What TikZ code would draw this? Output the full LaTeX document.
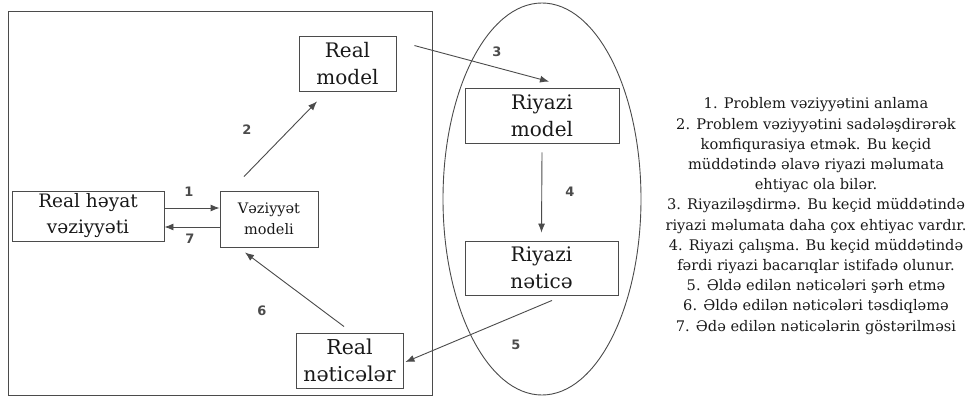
\documentclass[tikz,border=0pt]{standalone}
\usepackage{fontspec}
\setmainfont{DejaVu Serif}
\newfontfamily\numfont{DejaVu Sans}
\usetikzlibrary{arrows.meta}
\definecolor{lnkgray}{RGB}{75,75,75}
\definecolor{txtdark}{RGB}{25,25,25}

\begin{document}
\begin{tikzpicture}[x=1pt, y=-1pt,
      stagebox/.style={draw=lnkgray, line width=0.9pt, align=center, inner sep=0pt, text=txtdark},
      numlbl/.style={font=\numfont\bfseries\fontsize{13}{13}\selectfont, text=lnkgray},
      link/.style={draw=lnkgray, line width=0.9pt, -{Latex[length=9pt,width=7pt]}}
    ]
      \useasboundingbox (0,0) rectangle (970,396);

      % real world frame and mathematical world
      \draw[lnkgray, line width=0.9pt] (8,11) rectangle (432,395);
      \draw[lnkgray, line width=0.9pt] (542,199) ellipse [x radius=99, y radius=196];

      % Stages
      \node[stagebox, minimum width=152pt, minimum height=50pt, font=\fontsize{18.5}{26}\selectfont]
        (hayat) at (88,216) {Real həyat\\vəziyyəti};
      \node[stagebox, minimum width=98pt, minimum height=56pt, font=\fontsize{14.5}{21}\selectfont]
        (vezmodel) at (269,219) {Vəziyyət\\modeli};
      \node[stagebox, minimum width=97pt, minimum height=55pt, font=\fontsize{20}{27}\selectfont]
        (realmodel) at (347.5,63.5) {Real\\model};
      \node[stagebox, minimum width=107pt, minimum height=55pt, font=\fontsize{20.5}{27}\selectfont]
        (realnetice) at (349.5,360.5) {Real\\nəticələr};
      \node[stagebox, minimum width=154pt, minimum height=55pt, font=\fontsize{20}{27}\selectfont]
        (riymodel) at (542,115.5) {Riyazi\\model};
      \node[stagebox, minimum width=153pt, minimum height=54pt, font=\fontsize{20}{27}\selectfont]
        (riynetice) at (541.5,268) {Riyazi\\nəticə};

      % Transitions
      \draw[link] ([yshift=8pt]hayat.east) -- ([yshift=11pt]vezmodel.west);
      \draw[link] ([yshift=-8pt]vezmodel.west) -- ([yshift=-11pt]hayat.east);
      \draw[link] ([xshift=-25pt,yshift=14pt]vezmodel.north) -- ([xshift=-30.5pt,yshift=-10pt]realmodel.south);
      \draw[link] ([xshift=18pt,yshift=-10pt]realmodel.north east) -- ([xshift=7pt,yshift=6pt]riymodel.north);
      \draw[link] ([yshift=-9pt]riymodel.south) -- ([yshift=8pt]riynetice.north);
      \draw[link] ([xshift=10.5pt,yshift=-5pt]riynetice.south) -- ([xshift=2pt,yshift=-1.5pt]realnetice.east);
      \draw[link] ([xshift=-5.5pt,yshift=6pt]realnetice.north) -- ([xshift=-24pt,yshift=-5pt]vezmodel.south);

      % Step numbers
      \node[numlbl] (n1) at (189,192) {1};
      \node[numlbl] (n2) at (247,130) {2};
      \node[numlbl] (n3) at (497,52) {3};
      \node[numlbl] (n4) at (570,192) {4};
      \node[numlbl] (n5) at (516,345) {5};
      \node[numlbl] (n6) at (262,311) {6};
      \node[numlbl] (n7) at (190,239) {7};

      % Legend
      \node[align=center, text=txtdark, font=\fontsize{14.6}{20.2}\selectfont] (legend) at (816,216) {
        1. Problem vəziyyətini anlama\\
        2. Problem vəziyyətini sadələşdirərək\\
        komfiqurasiya etmək. Bu keçid\\
        müddətində əlavə riyazi məlumata\\
        ehtiyac ola bilər.\\
        3. Riyaziləşdirmə. Bu keçid müddətində\\
        riyazi məlumata daha çox ehtiyac vardır.\\
        4. Riyazi çalışma. Bu keçid müddətində\\
        fərdi riyazi bacarıqlar istifadə olunur.\\
        5. Əldə edilən nəticələri şərh etmə\\
        6. Əldə edilən nəticələri təsdiqləmə\\
        7. Ədə edilən nəticələrin göstərilməsi
      };
    \end{tikzpicture}
\end{document}
